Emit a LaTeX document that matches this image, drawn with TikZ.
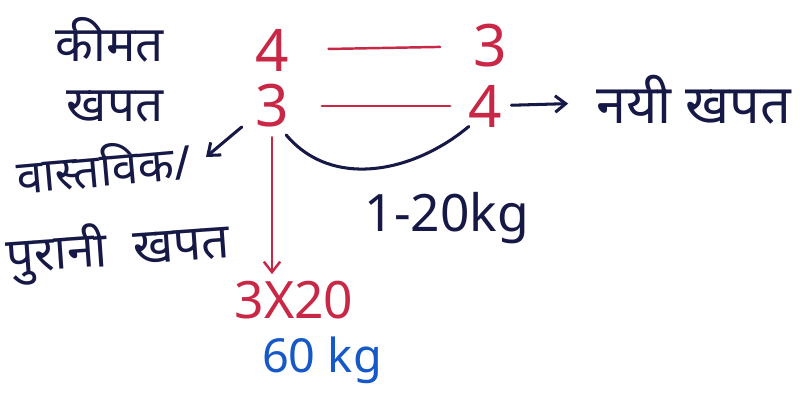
\documentclass[tikz,border=0pt]{standalone}
\usepackage{fontspec}
\setmainfont{Noto Sans}
\newfontfamily\hindi[Script=Devanagari]{Noto Sans}
\usepackage{xcolor}
\usetikzlibrary{arrows.meta, positioning}

\definecolor{inkred}{RGB}{200,40,70}
\definecolor{inknavy}{RGB}{22,24,70}
\definecolor{inkblue}{RGB}{22,88,200}

\begin{document}
\begin{tikzpicture}[
    x=0.03cm, y=-0.03cm,
    word/.style={font=\hindi\fontsize{42}{46}\selectfont, text=inknavy, inner sep=0pt},
    num/.style={font=\fontsize{50}{54}\selectfont, text=inkred, inner sep=1pt},
    kg/.style={font=\fontsize{44}{48}\selectfont, inner sep=0pt},
    pen/.style={draw=inknavy, line width=2.6pt, line cap=round},
    redpen/.style={draw=inkred, line width=2.1pt, line cap=round},
    tip/.style={-{Straight Barb[length=9pt, width=14pt]}},
  ]
  \useasboundingbox (0,0) rectangle (805,408);

  % left labels
  \node[word] (price) at (110,40) {कीमत};
  \node[word] (cons) at (115,107) {खपत};
  \node[word, font=\hindi\fontsize{40}{44}\selectfont, rotate=5] (old1) at (104,166) {वास्तविक/};
  \node[word, rotate=4] (old2) at (118,250) {पुरानी\ \ खपत};

  % ratios
  \node[num] (p1) at (272,50) {4};
  \node[num] (c1) at (272,106) {3};
  \node[num] (p2) at (490,46) {3};
  \node[num] (c2) at (485,106) {4};
  \node[word, font=\hindi\fontsize{46}{50}\selectfont] (newc) at (694,100) {नयी खपत};
  \coordinate (oldtip) at (206,157);

  % results
  \node[kg, text=inknavy] (diff) at (447,218) {1-20kg};
  \node[num, kg] (mult) at (294,300) {3X20};
  \node[kg, font=\fontsize{40}{44}\selectfont, text=inkblue] (total) at (322,360) {60 kg};

  \draw[redpen, shorten <=1.15cm, shorten >=0.95cm] (p1) -- (p2);
  \draw[redpen, shorten <=0.95cm, shorten >=0.5cm] (c1) -- (c2);
  \draw[pen, tip, shorten <=0.25cm, shorten >=0.85cm] (c2) -- (newc);
  \draw[pen, tip] ([shift={(-12,-2)}]c1.south west) -- (oldtip);
  \draw[redpen, tip, shorten <=0.25cm, shorten >=0.2cm] (c1.south) -- (mult.north -| c1.south);
  \draw[pen] ([shift={(-4,6)}]c1.south east) to[out=-50, in=-140] ([shift={(2,-2)}]c2.south west);
\end{tikzpicture}
\end{document}
